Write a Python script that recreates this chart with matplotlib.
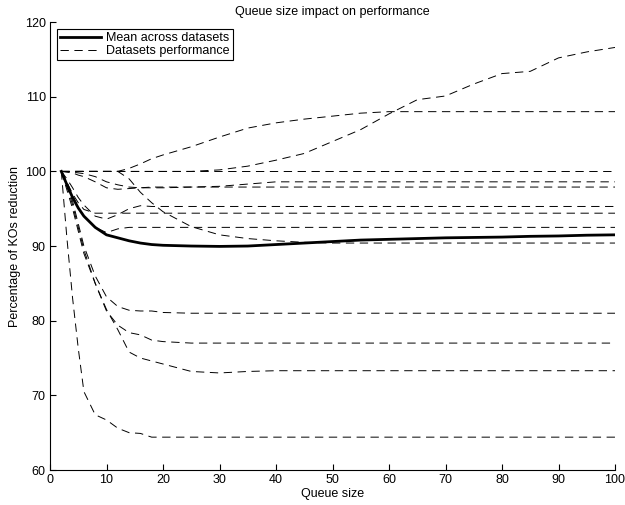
import matplotlib
matplotlib.use("Agg")
import matplotlib.pyplot as plt

plt.rcParams['font.family'] = ['Liberation Sans', 'DejaVu Sans']
plt.rcParams['lines.scale_dashes'] = False

# queue sizes at which the runs were sampled
queue = [2, 3, 4, 5, 6, 8, 10, 12, 14, 16, 18, 20, 25, 30, 35, 40, 45, 50,
         55, 60, 65, 70, 75, 80, 85, 90, 95, 100]

# per-dataset curves (percentage of KOs reduction)
ds_a = [100] * 13 + [100.2, 100.7, 101.5, 102.4, 104.0, 105.6, 107.7, 109.6,
                     110.1, 111.7, 113.1, 113.4, 115.2, 116.0, 116.6]
ds_b = [100] * 8 + [100.4, 101.0, 101.7, 102.2, 103.3, 104.6, 105.8, 106.5,
                    107.0, 107.4, 107.8, 108.0] + [108.0] * 8
ds_c = [100] * 28
ds_d = [100, 99.95, 99.9, 99.8, 99.7, 99.3, 98.6, 98.2, 97.9, 97.8, 97.8,
        97.8, 97.9, 98.0, 98.3, 98.6] + [98.6] * 12
ds_e = [100, 99.9, 99.8, 99.5, 99.3, 98.6, 97.8, 97.6, 97.7, 97.8,
        97.9] + [97.9] * 17
ds_f = [100, 99.0, 97.8, 96.5, 95.5, 94.0, 93.6, 94.2, 95.0, 95.4,
        95.3] + [95.3] * 17
ds_g = [100, 98.5, 97.0, 95.8, 94.9] + [94.4] * 23
ds_h = [100, 98.5, 96.8, 95.2, 94.0, 92.5, 91.8, 92.3, 92.5] + [92.5] * 19
ds_i = [100] * 8 + [99.0, 97.2, 95.8, 94.6, 92.6, 91.5, 91.0, 90.7, 90.5,
                    90.4] + [90.4] * 10
ds_j = [100, 98.0, 96.0, 93.0, 90.0, 86.0, 83.2, 81.9, 81.4, 81.3, 81.3,
        81.1, 81.0] + [81.0] * 15
ds_k = [100, 98.0, 95.5, 92.5, 89.5, 85.0, 81.3, 79.4, 78.4, 78.1, 77.4,
        77.2, 77.0] + [77.0] * 15
ds_l = [100, 97.5, 95.0, 92.0, 89.0, 85.0, 81.5, 78.8, 75.8, 75.0, 74.6,
        74.2, 73.2, 73.0, 73.2] + [73.3] * 13
ds_m = [100, 91.0, 83.0, 76.3, 70.5, 67.4, 66.7, 65.6, 65.0, 64.9, 64.4,
        64.4] + [64.4] * 16
datasets = [ds_a, ds_b, ds_c, ds_d, ds_e, ds_f, ds_g, ds_h, ds_i, ds_j,
            ds_k, ds_l, ds_m]

# mean across datasets
mean_curve = [100, 98.2, 96.5, 95.1, 94.0, 92.5, 91.5, 91.1, 90.7, 90.4, 90.2,
              90.1, 90.0, 89.95, 90.0, 90.2, 90.4, 90.6, 90.8, 90.9, 91.0,
              91.1, 91.15, 91.2, 91.3, 91.35, 91.45, 91.5]

fig = plt.figure(figsize=(6.25, 5.05), dpi=100)
ax = fig.add_axes([0.08, 0.0693, 0.904, 0.887])

ax.plot(queue, mean_curve, color='k', lw=2.0, label='Mean across datasets',
        zorder=3)
for i, ds in enumerate(datasets):
    ax.plot(queue, ds, color='k', lw=0.7, dashes=(6, 4),
            label='Datasets performance' if i == 0 else None)

ax.set_xlim(0, 100)
ax.set_ylim(60, 120)
ax.set_xticks(range(0, 101, 10))
ax.set_yticks(range(60, 121, 10))
ax.tick_params(direction='in', length=4, width=0.8, labelsize=9, pad=3)
ax.spines['top'].set_visible(False)
ax.spines['right'].set_visible(False)
for s in ('left', 'bottom'):
    ax.spines[s].set_linewidth(0.8)

ax.set_title('Queue size impact on performance', fontsize=9, pad=5)
ax.set_xlabel('Queue size', fontsize=9, labelpad=1.5)
ax.set_ylabel('Percentage of KOs reduction', fontsize=9, labelpad=3)

leg = ax.legend(loc='upper left', bbox_to_anchor=(0.012, 0.985),
                borderaxespad=0, fontsize=9, fancybox=False,
                framealpha=1, edgecolor='k', handlelength=3.3,
                handletextpad=0.4, borderpad=0.25, labelspacing=0.1)
leg.get_frame().set_linewidth(0.8)

fig.savefig('out.png', dpi=100)
